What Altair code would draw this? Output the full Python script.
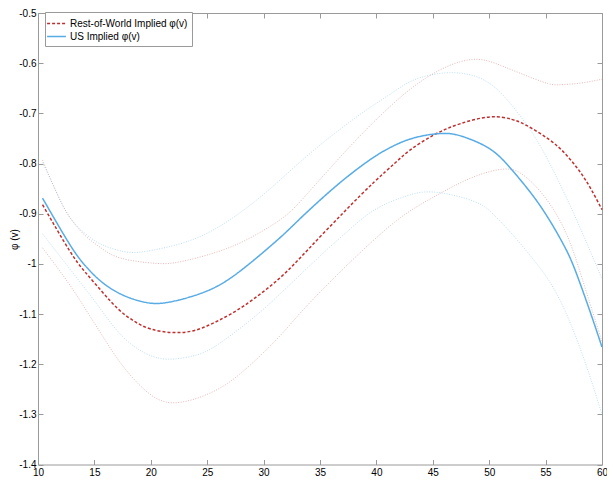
import altair as alt
import pandas as pd

ROW_LABEL = "Rest-of-World Implied φ(v)"
US_LABEL = "US Implied φ(v)"

x_ticks = [10, 15, 20, 25, 30, 35, 40, 45, 50, 55, 60]
y_ticks = [-1.4, -1.3, -1.2, -1.1, -1.0, -0.9, -0.8, -0.7, -0.6, -0.5]

# US implied (solid blue)
us_x = [10.4, 12.75, 14.2, 15.7, 17.4, 19, 20.5, 22.5, 25.5, 28.4, 31.35, 33, 35.15, 37.5, 39.8, 41.6, 43.5, 46, 48, 50.2, 52.1, 54.45, 56.5, 57.66, 59, 60]
us_y = [-0.869, -0.959, -1.004, -1.037, -1.061, -1.074, -1.079, -1.072, -1.049, -1.006, -0.950, -0.915, -0.870, -0.825, -0.787, -0.764, -0.748, -0.740, -0.749, -0.773, -0.815, -0.882, -0.958, -1.015, -1.099, -1.166]

# US upper / lower bands (dotted light blue)
us_hi_x = [10.4, 11.6, 12.75, 14.2, 15.7, 17.7, 19.6, 22.6, 25.5, 28.4, 31, 34, 37, 39.2, 41.6, 43.5, 46.5, 49.8, 52.4, 54.7, 57.5, 60]
us_hi_y = [-0.798, -0.855, -0.905, -0.940, -0.962, -0.976, -0.975, -0.960, -0.933, -0.890, -0.842, -0.782, -0.728, -0.692, -0.656, -0.632, -0.619, -0.637, -0.695, -0.772, -0.900, -1.030]
us_lo_x = [10.4, 12.75, 14.2, 15.7, 17.5, 19.5, 21.5, 24, 26, 28.4, 30.5, 33, 35.7, 37.5, 39.8, 42.5, 45.1, 48.6, 50.35, 52, 54.15, 56.2, 58.25, 60]
us_lo_y = [-0.940, -1.008, -1.050, -1.095, -1.145, -1.178, -1.190, -1.182, -1.160, -1.120, -1.080, -1.027, -0.970, -0.934, -0.893, -0.866, -0.857, -0.875, -0.901, -0.940, -0.998, -1.069, -1.180, -1.300]

# Rest-of-World implied (dashed red)
row_x = [10.4, 12.75, 14.2, 15.7, 17.1, 18.5, 20, 22, 24, 26, 28.3, 31.35, 34, 37.2, 39.8, 41.6, 43, 45.1, 47.4, 50.1, 52, 53.3, 55.3, 56.8, 58, 59, 60]
row_y = [-0.882, -0.972, -1.017, -1.056, -1.090, -1.114, -1.130, -1.137, -1.132, -1.113, -1.083, -1.030, -0.970, -0.895, -0.837, -0.800, -0.773, -0.743, -0.721, -0.707, -0.712, -0.724, -0.752, -0.782, -0.815, -0.850, -0.892]

# Rest-of-World upper / lower bands (dotted light red)
row_hi_x = [10.4, 11.6, 12.75, 14.2, 15.7, 17.4, 20.4, 22.6, 25.5, 28.4, 31.35, 33.4, 37, 40.7, 44.5, 48.3, 51.3, 54.7, 56.2, 58, 60]
row_hi_y = [-0.793, -0.856, -0.905, -0.944, -0.970, -0.989, -0.999, -0.996, -0.979, -0.953, -0.914, -0.872, -0.782, -0.697, -0.628, -0.593, -0.607, -0.637, -0.643, -0.640, -0.632]
row_lo_x = [10.4, 12.75, 14.2, 15.7, 17.4, 19.5, 22, 25.5, 28.4, 31.35, 33.7, 37.2, 39.8, 42.5, 45.7, 48.6, 51.5, 53.3, 55, 56.8, 58.25, 60]
row_lo_y = [-0.968, -1.040, -1.090, -1.143, -1.200, -1.252, -1.277, -1.255, -1.210, -1.146, -1.087, -1.007, -0.952, -0.902, -0.859, -0.827, -0.811, -0.828, -0.869, -0.938, -1.030, -1.155]

RED = "#BE3030"
BLUE = "#58ACE6"
GRAY = "#9a9a9a"
FONT = "Liberation Sans"


def frame(name, xs, ys):
    return pd.DataFrame({"x": xs, "y": ys, "curve": name})


red_bands = pd.concat([frame("row_hi", row_hi_x, row_hi_y), frame("row_lo", row_lo_x, row_lo_y)])
blue_bands = pd.concat([frame("us_hi", us_hi_x, us_hi_y), frame("us_lo", us_lo_x, us_lo_y)])
centers = pd.concat([frame(ROW_LABEL, row_x, row_y), frame(US_LABEL, us_x, us_y)])

xs = alt.Scale(domain=[10, 60], nice=False, zero=False)
ys = alt.Scale(domain=[-1.4, -0.5], nice=False, zero=False)

x_axis = alt.Axis(values=x_ticks, orient="bottom", domain=False, grid=False, offset=-5,
                  tickSize=5, tickColor=GRAY, labelPadding=3, labelFont=FONT,
                  labelFontSize=10, labelColor="black", labelFlush=False, title=None,
                  format="d")
y_axis = alt.Axis(values=y_ticks, orient="left", domain=False, grid=False, offset=-5,
                  tickSize=5, tickColor=GRAY, labelPadding=2, labelFont=FONT,
                  labelFontSize=10, labelColor="black", labelFlush=False,
                  labelExpr="replace(format(datum.value, '.1~f'), '\u2212', '-')",
                  title="φ (v)", titleFont=FONT, titleFontSize=10, titleFontWeight="normal",
                  titleColor="black", titleX=-29, titleY=226, titleAngle=270,
                  titleBaseline="middle", titleAlign="center")

X = alt.X("x:Q", scale=xs, axis=x_axis)
Y = alt.Y("y:Q", scale=ys, axis=y_axis)

red_band_layer = alt.Chart(red_bands).mark_line(
    color=RED, strokeWidth=1, strokeDash=[1, 1.5], opacity=0.35, interpolate="natural"
).encode(x=X, y=Y, detail="curve:N")

blue_band_layer = alt.Chart(blue_bands).mark_line(
    color=BLUE, strokeWidth=1, strokeDash=[1, 1.5], opacity=0.4, interpolate="natural"
).encode(x=X, y=Y, detail="curve:N")

legend = alt.Legend(title=None, orient="none", legendX=7, legendY=-1,
                    symbolType="M-1.45,0H1.45", symbolSize=169, symbolStrokeWidth=1.5,
                    labelFont=FONT, labelFontSize=10, labelColor="black", padding=4,
                    strokeColor=GRAY, fillColor="white", labelOffset=6, rowPadding=0,
                    cornerRadius=0)

center_layer = alt.Chart(centers).mark_line(strokeWidth=1.5, interpolate="natural").encode(
    x=X, y=Y,
    color=alt.Color("curve:N", scale=alt.Scale(domain=[ROW_LABEL, US_LABEL], range=[RED, BLUE]),
                    legend=legend),
    strokeDash=alt.StrokeDash("curve:N", scale=alt.Scale(domain=[ROW_LABEL, US_LABEL],
                                                         range=[[3, 2], [1, 0]]),
                              legend=legend),
)

main = alt.layer(red_band_layer, blue_band_layer, center_layer)

top_axis = alt.Axis(values=x_ticks, orient="top", labels=False, domain=False, grid=False,
                    offset=-5, tickSize=5, tickColor=GRAY, title=None)
right_axis = alt.Axis(values=y_ticks, orient="right", labels=False, domain=False, grid=False,
                      offset=-5, tickSize=5, tickColor=GRAY, title=None)

frame_layer = alt.Chart(centers).mark_line(opacity=0).encode(
    x=alt.X("x:Q", scale=xs, axis=top_axis),
    y=alt.Y("y:Q", scale=ys, axis=right_axis),
    detail="curve:N",
)

chart = alt.layer(main, frame_layer).resolve_axis(x="independent", y="independent").properties(
    width=564, height=451.5,
    autosize=alt.AutoSizeParams(type="none"),
    padding={"left": 30, "top": 5, "right": 5, "bottom": 14.5},
).configure_view(stroke=GRAY, strokeWidth=1)

chart.save("out.html", embed_options={"renderer": "svg", "actions": False})
